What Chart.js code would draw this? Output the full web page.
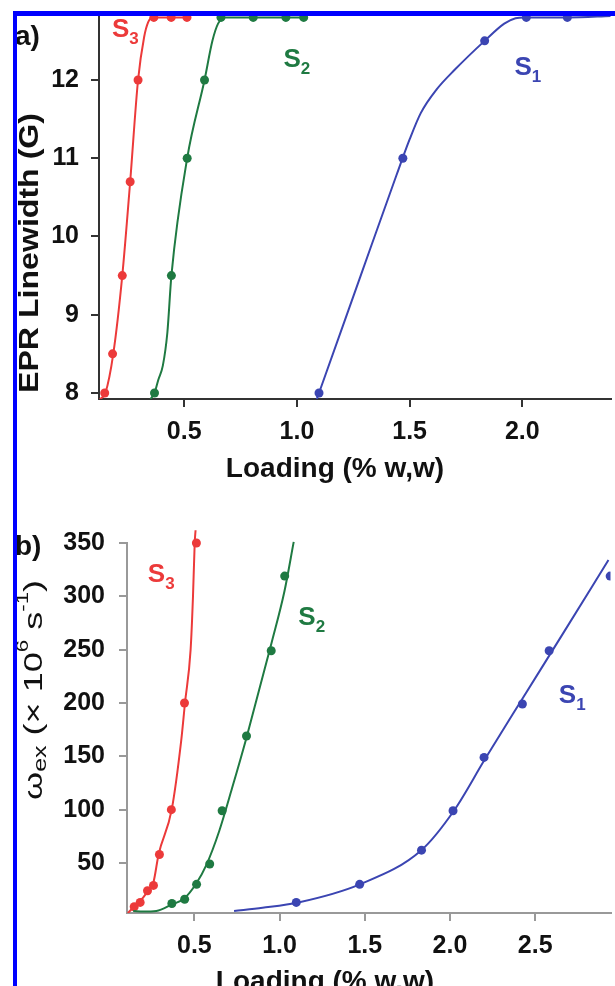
<!DOCTYPE html>
<html lang="en">
<head>
  <meta charset="UTF-8">
  <title>EPR linewidth and exchange frequency vs loading</title>
  <script src="https://cdn.jsdelivr.net/npm/chart.js"></script>
  <style>
    body { margin: 0; background: #fff; }
    #wrap { position: relative; width: 615px; height: 986px; overflow: hidden; }
    canvas { position: absolute; left: 0; }
    #chartA { top: 0; }
    #chartB { top: 490px; }
    .frame { position: absolute; background: #0000ff; z-index: 5; }
  </style>
</head>
<body>
<div id="wrap">
  <canvas id="chartA" width="615" height="490"></canvas>
  <canvas id="chartB" width="615" height="496"></canvas>
  <div class="frame" style="left:13px; top:11px; width:602px; height:5px;"></div>
  <div class="frame" style="left:13px; top:11px; width:4px; height:975px;"></div>
</div>

<script>
  // sample loadings (% w,w)
  const loadS3 = [0.147, 0.182, 0.225, 0.26, 0.295, 0.365, 0.442, 0.512];
  const loadS2 = [0.368, 0.443, 0.513, 0.59, 0.663, 0.806, 0.951, 1.03];
  const loadS1 = [1.098, 1.47, 1.833, 2.018, 2.2, 2.425, 2.582, 2.94];

  // a) EPR linewidth (G)
  const widthS3 = [8.0, 8.5, 9.5, 10.7, 12.0, 12.8, 12.8, 12.8];
  const widthS2 = [8.0, 9.5, 11.0, 12.0, 12.8, 12.8, 12.8, 12.8];
  const widthS1 = [8.0, 11.0, 12.5, 12.8, 12.8, 12.8, 12.8, 12.8];

  // b) exchange frequency (x 10^6 s^-1)
  const omegaS3 = [9, 13, 24, 29, 58, 100, 200, 350];
  const omegaS2 = [12, 16, 30, 49, 99, 169, 249, 319];
  const omegaS1 = [13, 30, 62, 99, 149, 199, 249, 319];

  // fitted curves
  const fitA3x = [0.126, 0.15, 0.185, 0.225, 0.26, 0.295, 0.322, 0.34, 0.36, 0.512];
  const fitA3y = [7.92, 8.0, 8.5, 9.5, 10.7, 12.0, 12.55, 12.74, 12.8, 12.8];
  const fitA2x = [0.35, 0.368, 0.385, 0.405, 0.425, 0.443, 0.513, 0.59, 0.625, 0.65, 0.68, 1.04];
  const fitA2y = [7.92, 8.0, 8.17, 8.35, 8.77, 9.5, 11.0, 12.0, 12.5, 12.72, 12.8, 12.8];
  const fitA1x = [1.088, 1.098, 1.283, 1.44, 1.50, 1.55, 1.62, 1.70, 1.833, 1.92, 1.97, 2.01, 2.2, 2.4];
  const fitA1y = [7.92, 8.0, 9.5, 10.77, 11.24, 11.58, 11.88, 12.13, 12.5, 12.72, 12.79, 12.8, 12.8, 12.82];

  const fitB3x = [0.11, 0.14, 0.18, 0.22, 0.26, 0.29, 0.367, 0.423, 0.445, 0.478, 0.492, 0.502, 0.507];
  const fitB3y = [3, 8, 14, 22, 32, 58, 100, 165, 200, 250, 300, 350, 362];
  const fitB2x = [0.141, 0.2, 0.277, 0.367, 0.442, 0.512, 0.57, 0.646, 0.721, 0.805, 0.954, 1.029, 1.083];
  const fitB2y = [5, 4.5, 5, 11, 17, 31, 48, 80, 120, 167, 257, 305, 351];
  const fitB1x = [0.733, 0.9, 1.11, 1.471, 1.832, 2.023, 2.204, 2.425, 2.651, 2.93];
  const fitB1y = [5, 8, 13, 30, 62, 99, 147, 204, 262, 334];

  const xTicksA = [0.5, 1.0, 1.5, 2.0];
  const yTicksA = [8, 9, 10, 11, 12];
  const xTicksB = [0.5, 1.0, 1.5, 2.0, 2.5];
  const yTicksB = [50, 100, 150, 200, 250, 300, 350];

  const RED = '#ec3a3a', GREEN = '#1f7a42', BLUE = '#3b45b2';
  const FONT = "'Liberation Sans', Arial, sans-serif";

  const pts = (xs, ys) => xs.map((x, i) => ({ x: x, y: ys[i] }));

  function fitSet(xs, ys, color, clipTop) {
    return {
      data: pts(xs, ys), showLine: true, borderColor: color, borderWidth: 2,
      pointRadius: 0, cubicInterpolationMode: 'monotone',
      clip: { left: 0, top: clipTop, right: 0, bottom: 0 }
    };
  }
  function dotSet(xs, ys, color) {
    return {
      data: pts(xs, ys), showLine: false, pointRadius: 4.5, pointBorderWidth: 0,
      backgroundColor: color, borderColor: color,
      clip: { left: 6, top: 10, right: 0, bottom: 6 }
    };
  }

  // text made of several runs (sub/superscripts), optionally rotated;
  // items are kept in a closure so Chart.js does not resolve them as options
  function textPlugin(items) {
    return {
      id: 'richText',
      afterDraw(chart) {
        const ctx = chart.ctx;
        items.forEach(item => {
          let x = item.px, y = item.py;
          if (item.at) {
            x = chart.scales.x.getPixelForValue(item.at[0]);
            y = chart.scales.y.getPixelForValue(item.at[1]);
          }
          ctx.save();
          ctx.textBaseline = 'alphabetic';
          ctx.textAlign = 'left';
          let w = 0;
          item.parts.forEach(p => { ctx.font = p.font; w += ctx.measureText(p.t).width; });
          ctx.translate(x, y);
          if (item.rotate) ctx.rotate(item.rotate);
          if (item.length) ctx.scale(item.length / w, 1);
          ctx.fillStyle = item.color || '#111';
          let cx = item.center ? -w / 2 : 0;
          item.parts.forEach(p => {
            ctx.font = p.font;
            ctx.fillText(p.t, cx, p.dy || 0);
            cx += ctx.measureText(p.t).width;
          });
          ctx.restore();
        });
      }
    };
  }

  function sLabel(sub, at, color) {
    return { at: at, color: color, parts: [
      { t: 'S', font: 'bold 26px ' + FONT },
      { t: sub, font: 'bold 17px ' + FONT, dy: 7 }
    ] };
  }

  function axes(o) {
    const tickFont = { family: FONT, size: 25, weight: 'bold' };
    const noPad = s => { s.paddingTop = 0; s.paddingBottom = 0; s.paddingLeft = 0; s.paddingRight = 0; };
    return {
      x: {
        type: 'linear', min: o.xMin, max: o.xMax,
        afterBuildTicks: s => { s.ticks = o.xTicks.map(v => ({ value: v })); },
        afterFit: s => { s.height = o.xHeight; noPad(s); },
        ticks: { font: tickFont, color: '#111', padding: o.xPad, callback: v => v.toFixed(1) },
        grid: { drawOnChartArea: false, drawTicks: true, tickLength: 8, color: o.axisColor, lineWidth: 2 },
        border: { color: o.axisColor, width: 2 }
      },
      y: {
        type: 'linear', min: o.yMin, max: o.yMax,
        afterBuildTicks: s => { s.ticks = o.yTicks.map(v => ({ value: v })); },
        afterFit: s => { s.width = o.yWidth; noPad(s); },
        ticks: { font: tickFont, color: '#111', padding: o.yPad },
        grid: { drawOnChartArea: false, drawTicks: true, tickLength: 8, color: o.axisColor, lineWidth: 2 },
        border: { color: o.axisColor, width: 2 }
      }
    };
  }

  const labelsA = [
    { px: 15, py: 45, parts: [{ t: 'a)', font: 'bold 28px ' + FONT }] },
    sLabel('3', [0.179, 12.55], RED),
    sLabel('2', [0.94, 12.17], GREEN),
    sLabel('1', [1.965, 12.06], BLUE),
    { px: 335, py: 477, center: true, parts: [{ t: 'Loading (% w,w)', font: 'bold 28px ' + FONT }] },
    { px: 28, py: 253, center: true, rotate: -Math.PI / 2, length: 280,
      parts: [{ t: 'EPR Linewidth (G)', font: 'bold 27px ' + FONT, dy: 10 }] }
  ];

  const labelsB = [
    { px: 15, py: 65, parts: [{ t: 'b)', font: 'bold 28px ' + FONT }] },
    sLabel('3', [0.227, 313], RED),
    sLabel('2', [1.11, 273], GREEN),
    sLabel('1', [2.639, 200], BLUE),
    { px: 325, py: 500, center: true, parts: [{ t: 'Loading (% w,w)', font: 'bold 28px ' + FONT }] },
    { px: 31, py: 200, center: true, rotate: -Math.PI / 2, length: 220,
      parts: [
        { t: 'ω', font: '26px ' + FONT, dy: 11 },
        { t: 'ex', font: '18px ' + FONT, dy: 15 },
        { t: ' (× 10', font: '26px ' + FONT, dy: 11 },
        { t: '6', font: '16px ' + FONT, dy: -3 },
        { t: ' s', font: '26px ' + FONT, dy: 11 },
        { t: '-1', font: '16px ' + FONT, dy: -3 },
        { t: ')', font: '26px ' + FONT, dy: 11 }
      ] }
  ];

  new Chart(document.getElementById('chartA'), {
    type: 'scatter',
    data: {
      datasets: [
        fitSet(fitA3x, fitA3y, RED, 4), fitSet(fitA2x, fitA2y, GREEN, 4), fitSet(fitA1x, fitA1y, BLUE, 4),
        dotSet(loadS3, widthS3, RED), dotSet(loadS2, widthS2, GREEN), dotSet(loadS1, widthS1, BLUE)
      ]
    },
    options: {
      responsive: false, animation: false,
      layout: { padding: { top: 17, right: 0, bottom: 0, left: 0 } },
      plugins: { legend: { display: false }, tooltip: { enabled: false } },
      scales: axes({ xMin: 0.1217, xMax: 2.3915, yMin: 7.923, yMax: 12.805,
        xTicks: xTicksA, yTicks: yTicksA, xHeight: 91, yWidth: 99, xPad: 10, yPad: 12, axisColor: '#333' })
    },
    plugins: [textPlugin(labelsA)]
  });

  new Chart(document.getElementById('chartB'), {
    type: 'scatter',
    data: {
      datasets: [
        fitSet(fitB3x, fitB3y, RED, 20), fitSet(fitB2x, fitB2y, GREEN, 20), fitSet(fitB1x, fitB1y, BLUE, 20),
        dotSet(loadS3, omegaS3, RED), dotSet(loadS2, omegaS2, GREEN), dotSet(loadS1, omegaS1, BLUE)
      ]
    },
    options: {
      responsive: false, animation: false,
      layout: { padding: { top: 53, right: 0, bottom: 0, left: 0 } },
      plugins: { legend: { display: false }, tooltip: { enabled: false } },
      scales: axes({ xMin: 0.1047, xMax: 2.942, yMin: 3.1, yMax: 350,
        xTicks: xTicksB, yTicks: yTicksB, xHeight: 73, yWidth: 127, xPad: 10, yPad: 14, axisColor: '#999' })
    },
    plugins: [textPlugin(labelsB)]
  });
</script>
</body>
</html>
